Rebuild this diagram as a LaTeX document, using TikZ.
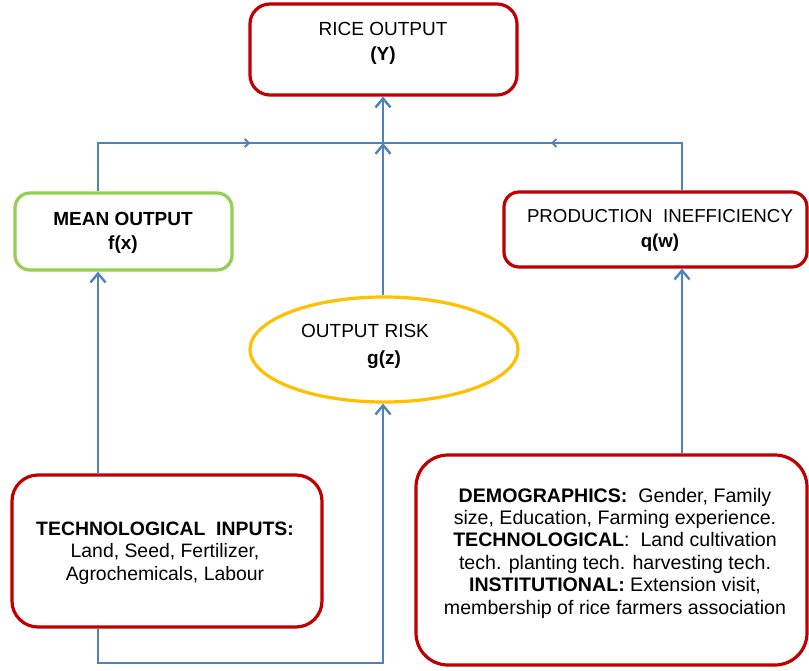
\documentclass[tikz,border=0pt]{standalone}
\usepackage{fontspec}
\setmainfont{Liberation Sans}
\usetikzlibrary{arrows.meta,shapes.geometric}
\definecolor{bred}{HTML}{C00000}
\definecolor{bgreen}{HTML}{92D050}
\definecolor{borange}{HTML}{FFC000}
\definecolor{bblue}{HTML}{4F81BD}
\tikzset{
  redbox/.style={draw=bred, line width=3.2pt, rounded corners=#1, inner sep=0pt, fill=white},
  greenbox/.style={draw=bgreen, line width=3.2pt, rounded corners=#1, inner sep=0pt, fill=white},
  riskshape/.style={draw=borange, line width=3.2pt, ellipse, inner sep=0pt, fill=white},
  conn/.style={draw=bblue, line width=2.6pt},
  arr/.style={conn, -{Straight Barb[length=9pt,width=15pt,line width=2.4pt]}},
  midarr/.style={conn, -{Straight Barb[length=4pt,width=8pt,line width=1.8pt]}},
  txt/.style={align=center, inner sep=0pt, font=\fontsize{19}{24}\selectfont},
}
\begin{document}
\begin{tikzpicture}[x=1pt,y=-1pt]
\useasboundingbox[fill=white] (0,0) rectangle (809,671);

% boxes
\node[redbox=20pt, minimum width=267pt, minimum height=91pt] (rice) at (383.5,49.5) {};
\node[greenbox=15pt, minimum width=217pt, minimum height=77pt] (mean) at (123.5,231.5) {};
\node[redbox=15pt, minimum width=303pt, minimum height=75pt] (prod) at (655.5,229.5) {};
\node[riskshape, minimum width=268pt, minimum height=105pt] (risk) at (384,349.5) {};
\node[redbox=26pt, minimum width=310pt, minimum height=152pt] (tech) at (167,551) {};
\node[redbox=32pt, minimum width=391pt, minimum height=210pt] (demo) at (611.5,560) {};

% texts
\node[txt, font=\fontsize{19}{25}\selectfont] (ricet) at (383,43) {RICE OUTPUT\\\textbf{(Y)}};
\node[txt, font=\fontsize{19}{24}\selectfont\bfseries] (meant) at (123,233) {MEAN OUTPUT\\f(x)};
\node[txt, font=\fontsize{18.7}{25}\selectfont] (prodt) at (660,230) {PRODUCTION\ \ INEFFICIENCY\\\textbf{q(w)}};
\node[txt, align=left, anchor=west, font=\fontsize{19}{27}\selectfont] (riskt) at (301,346) {OUTPUT RISK\\\hspace*{66pt}\textbf{g(z)}};
\node[txt, font=\fontsize{19.4}{22.5}\selectfont] (techt) at (165,553) {\textbf{TECHNOLOGICAL\ \ INPUTS:}\\Land, Seed, Fertilizer,\\Agrochemicals, Labour};
\node[txt, font=\fontsize{19.6}{22.4}\selectfont] (demot) at (615,553) {\textbf{DEMOGRAPHICS:}\ \ Gender, Family\\size, Education, Farming experience.\\\textbf{TECHNOLOGICAL}:\ \ Land cultivation\\tech. planting tech. harvesting tech.\\\textbf{INSTITUTIONAL:} Extension visit,\\membership of rice farmers association};

% connector coordinates
\coordinate (L) at (98,143);
\coordinate (R) at (682,143);
\coordinate (J) at (383,143);
\coordinate (ma) at (250,143);
\coordinate (mb) at (551,143);
\coordinate (B1) at (98,663);
\coordinate (B2) at (383,663);

% connectors
\draw[conn] (mean.north -| L) -- (L) -- (J);
\draw[midarr] (L) -- (ma);
\draw[conn] (prod.north -| R) -- (R) -- (J);
\draw[midarr] (R) -- (mb);
\draw[arr] (J) -- (rice.south -| J);
\draw[arr] (risk.north -| J) -- (J);
\draw[arr] (tech.north -| L) -- (mean.south -| L);
\draw[arr] (demo.north -| R) -- (prod.south -| R);
\draw[arr] (tech.south -| L) -- (B1) -- (B2) -- (risk.south -| B2);
\end{tikzpicture}
\end{document}
